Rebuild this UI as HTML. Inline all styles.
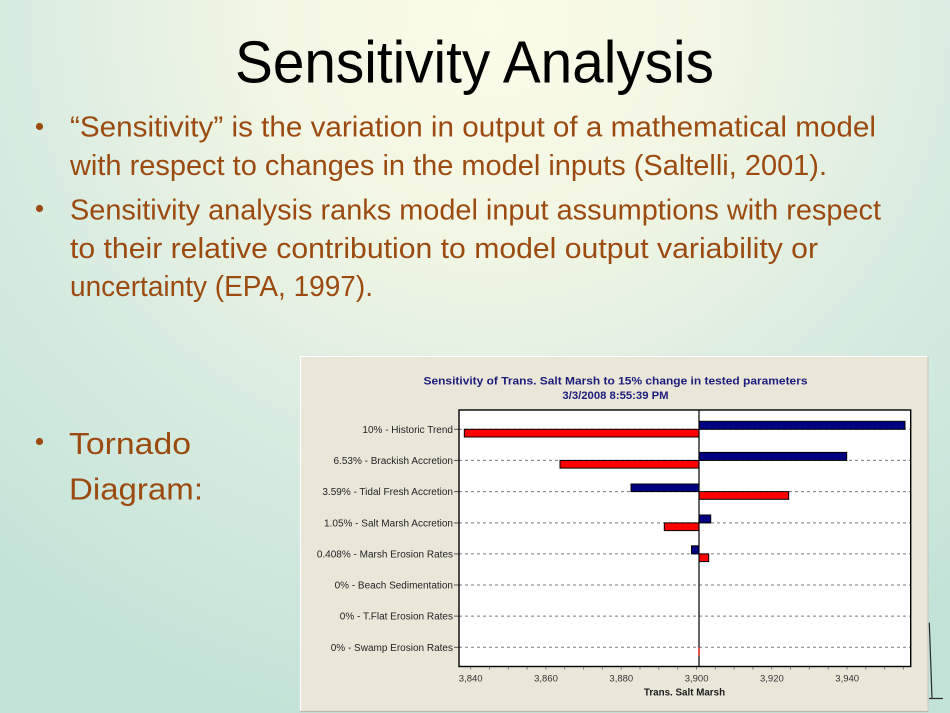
<!DOCTYPE html>
<html>
<head>
<meta charset="utf-8">
<style>
  html, body { margin:0; padding:0; width:950px; height:713px; overflow:hidden; }
  svg { display:block; }
</style>
</head>
<body>
<svg width="950" height="713" viewBox="0 0 950 713" xmlns="http://www.w3.org/2000/svg">
  <defs>
    <radialGradient id="bg" gradientUnits="userSpaceOnUse" cx="490" cy="20" r="760" gradientTransform="translate(490 20) scale(1 0.95) translate(-490 -20)">
      <stop offset="0" stop-color="#fcfbe8"/>
      <stop offset="0.3" stop-color="#f2f6e4"/>
      <stop offset="0.62" stop-color="#d9ece1"/>
      <stop offset="1" stop-color="#c3e3d8"/>
    </radialGradient>
  </defs>
  <rect x="0" y="0" width="950" height="713" fill="url(#bg)"/>

  <!-- Slide title -->
  <text x="235" y="82.5" font-family="Liberation Sans, sans-serif" font-size="59" fill="#000" textLength="479" lengthAdjust="spacingAndGlyphs">Sensitivity Analysis</text>

  <!-- Bullets -->
  <g fill="#9c4b10" font-family="Liberation Sans, sans-serif" font-size="28.5">
    <circle cx="39.5" cy="126.5" r="3.6"/>
    <text x="70" y="136.7" textLength="806" lengthAdjust="spacingAndGlyphs">“Sensitivity” is the variation in output of a mathematical model</text>
    <text x="70" y="175" textLength="757" lengthAdjust="spacingAndGlyphs">with respect to changes in the model inputs (Saltelli, 2001).</text>
    <circle cx="39.5" cy="208.5" r="3.6"/>
    <text x="70" y="219.3" textLength="811" lengthAdjust="spacingAndGlyphs">Sensitivity analysis ranks model input assumptions with respect</text>
    <text x="70" y="258" textLength="748" lengthAdjust="spacingAndGlyphs">to their relative contribution to model output variability or</text>
    <text x="70" y="296" textLength="303" lengthAdjust="spacingAndGlyphs">uncertainty (EPA, 1997).</text>
    <circle cx="39.5" cy="441.5" r="3.6"/>
    <text x="69" y="454" font-size="31" textLength="122" lengthAdjust="spacingAndGlyphs">Tornado</text>
    <text x="69" y="499.3" font-size="31" textLength="134" lengthAdjust="spacingAndGlyphs">Diagram:</text>
  </g>

  <!-- Chart panel -->
  <rect x="300" y="356" width="628.3" height="355" fill="#ebe7d8"/>
  <line x1="300" y1="356.5" x2="928" y2="356.5" stroke="#ffffff" stroke-width="1"/>
  <line x1="300.5" y1="356" x2="300.5" y2="711" stroke="#ffffff" stroke-width="1"/>
  <line x1="928" y1="356" x2="928" y2="711" stroke="#cbc6b6" stroke-width="1"/>
  <line x1="300" y1="711.5" x2="928" y2="711.5" stroke="#bdb9aa" stroke-width="1.2"/>

  <!-- Chart title -->
  <g font-family="Liberation Sans, sans-serif" font-weight="bold" fill="#1c1c7c" text-anchor="middle">
    <text x="615.5" y="384.5" font-size="11.3" textLength="384" lengthAdjust="spacingAndGlyphs">Sensitivity of Trans. Salt Marsh to 15% change in tested parameters</text>
    <text x="615.5" y="399" font-size="11.3">3/3/2008 8:55:39 PM</text>
  </g>

  <!-- Plot area -->
  <rect x="459" y="410" width="451.7" height="256.5" fill="#ffffff"/>

  <!-- dashed grid lines -->
  <g stroke="#7a7a7a" stroke-width="1" stroke-dasharray="3,3">
    <line x1="459" y1="429.3" x2="910" y2="429.3"/>
    <line x1="459" y1="460.4" x2="910" y2="460.4"/>
    <line x1="459" y1="491.6" x2="910" y2="491.6"/>
    <line x1="459" y1="522.9" x2="910" y2="522.9"/>
    <line x1="459" y1="553.9" x2="910" y2="553.9"/>
    <line x1="459" y1="585.0" x2="910" y2="585.0"/>
    <line x1="459" y1="616.1" x2="910" y2="616.1"/>
    <line x1="459" y1="647.3" x2="910" y2="647.3"/>
  </g>
  <!-- label ticks -->
  <g stroke="#555" stroke-width="1">
    <line x1="454" y1="429.3" x2="459" y2="429.3"/>
    <line x1="454" y1="460.4" x2="459" y2="460.4"/>
    <line x1="454" y1="491.6" x2="459" y2="491.6"/>
    <line x1="454" y1="522.9" x2="459" y2="522.9"/>
    <line x1="454" y1="553.9" x2="459" y2="553.9"/>
    <line x1="454" y1="585.0" x2="459" y2="585.0"/>
    <line x1="454" y1="616.1" x2="459" y2="616.1"/>
    <line x1="454" y1="647.3" x2="459" y2="647.3"/>
  </g>

  <!-- Bars -->
  <g stroke="#000" stroke-width="1">
    <rect x="699" y="421.3" width="206" height="8" fill="#000080"/>
    <rect x="464.3" y="429.3" width="234.7" height="7.7" fill="#ff0000"/>
    <rect x="699" y="452.4" width="147.7" height="8" fill="#000080"/>
    <rect x="560" y="460.4" width="139" height="7.7" fill="#ff0000"/>
    <rect x="631" y="484" width="68" height="7.6" fill="#000080"/>
    <rect x="699" y="491.6" width="89.7" height="7.7" fill="#ff0000"/>
    <rect x="699" y="515" width="11.7" height="7.9" fill="#000080"/>
    <rect x="664.3" y="522.9" width="34.7" height="7.7" fill="#ff0000"/>
    <rect x="691.5" y="545.8" width="7.5" height="8.1" fill="#000080"/>
    <rect x="699" y="553.9" width="9.7" height="7.7" fill="#ff0000"/>
  </g>

  <!-- center line -->
  <line x1="699" y1="410" x2="699" y2="666" stroke="#000" stroke-width="1.2"/>
  <line x1="699" y1="647.3" x2="699" y2="655.5" stroke="#ff0000" stroke-width="1.2"/>

  <!-- plot border -->
  <rect x="459" y="410" width="451.7" height="256.5" fill="none" stroke="#000" stroke-width="1.4"/>

  <!-- x ticks -->
  <g stroke="#777" stroke-width="1">
    <line x1="470.7" y1="667" x2="470.7" y2="669.5"/>
    <line x1="489.5" y1="667" x2="489.5" y2="669.5"/>
    <line x1="508.3" y1="667" x2="508.3" y2="669.5"/>
    <line x1="527.1" y1="667" x2="527.1" y2="669.5"/>
    <line x1="545.9" y1="667" x2="545.9" y2="669.5"/>
    <line x1="564.7" y1="667" x2="564.7" y2="669.5"/>
    <line x1="583.6" y1="667" x2="583.6" y2="669.5"/>
    <line x1="602.4" y1="667" x2="602.4" y2="669.5"/>
    <line x1="621.2" y1="667" x2="621.2" y2="669.5"/>
    <line x1="640.0" y1="667" x2="640.0" y2="669.5"/>
    <line x1="658.8" y1="667" x2="658.8" y2="669.5"/>
    <line x1="677.6" y1="667" x2="677.6" y2="669.5"/>
    <line x1="696.5" y1="667" x2="696.5" y2="669.5"/>
    <line x1="715.3" y1="667" x2="715.3" y2="669.5"/>
    <line x1="734.1" y1="667" x2="734.1" y2="669.5"/>
    <line x1="752.9" y1="667" x2="752.9" y2="669.5"/>
    <line x1="771.7" y1="667" x2="771.7" y2="669.5"/>
    <line x1="790.5" y1="667" x2="790.5" y2="669.5"/>
    <line x1="809.4" y1="667" x2="809.4" y2="669.5"/>
    <line x1="828.2" y1="667" x2="828.2" y2="669.5"/>
    <line x1="847.0" y1="667" x2="847.0" y2="669.5"/>
    <line x1="865.8" y1="667" x2="865.8" y2="669.5"/>
    <line x1="884.6" y1="667" x2="884.6" y2="669.5"/>
    <line x1="903.4" y1="667" x2="903.4" y2="669.5"/>
  </g>

  <!-- x tick labels -->
  <g font-family="Liberation Sans, sans-serif" font-size="9.5" fill="#333" text-anchor="middle">
    <text x="470.7" y="681.5">3,840</text>
    <text x="546" y="681.5">3,860</text>
    <text x="621.3" y="681.5">3,880</text>
    <text x="696.6" y="681.5">3,900</text>
    <text x="771.9" y="681.5">3,920</text>
    <text x="847.2" y="681.5">3,940</text>
  </g>
  <text x="684.5" y="695.5" font-family="Liberation Sans, sans-serif" font-size="9.8" font-weight="bold" fill="#1a1a1a" text-anchor="middle">Trans. Salt Marsh</text>

  <!-- row labels -->
  <g font-family="Liberation Sans, sans-serif" font-size="10" fill="#222" text-anchor="end">
    <text x="453" y="432.8">10% - Historic Trend</text>
    <text x="453" y="463.9">6.53% - Brackish Accretion</text>
    <text x="453" y="495.1">3.59% - Tidal Fresh Accretion</text>
    <text x="453" y="526.4">1.05% - Salt Marsh Accretion</text>
    <text x="453" y="557.4">0.408% - Marsh Erosion Rates</text>
    <text x="453" y="588.5">0% - Beach Sedimentation</text>
    <text x="453" y="619.6">0% - T.Flat Erosion Rates</text>
    <text x="453" y="650.8">0% - Swamp Erosion Rates</text>
  </g>

  <!-- stray line at right edge -->
  <polyline points="929.3,622.7 932,698.3" fill="none" stroke="#2a2a2a" stroke-width="1.2"/>
  <line x1="929" y1="698.5" x2="943" y2="698.5" stroke="#2a2a2a" stroke-width="1.2"/>
</svg>
</body>
</html>
